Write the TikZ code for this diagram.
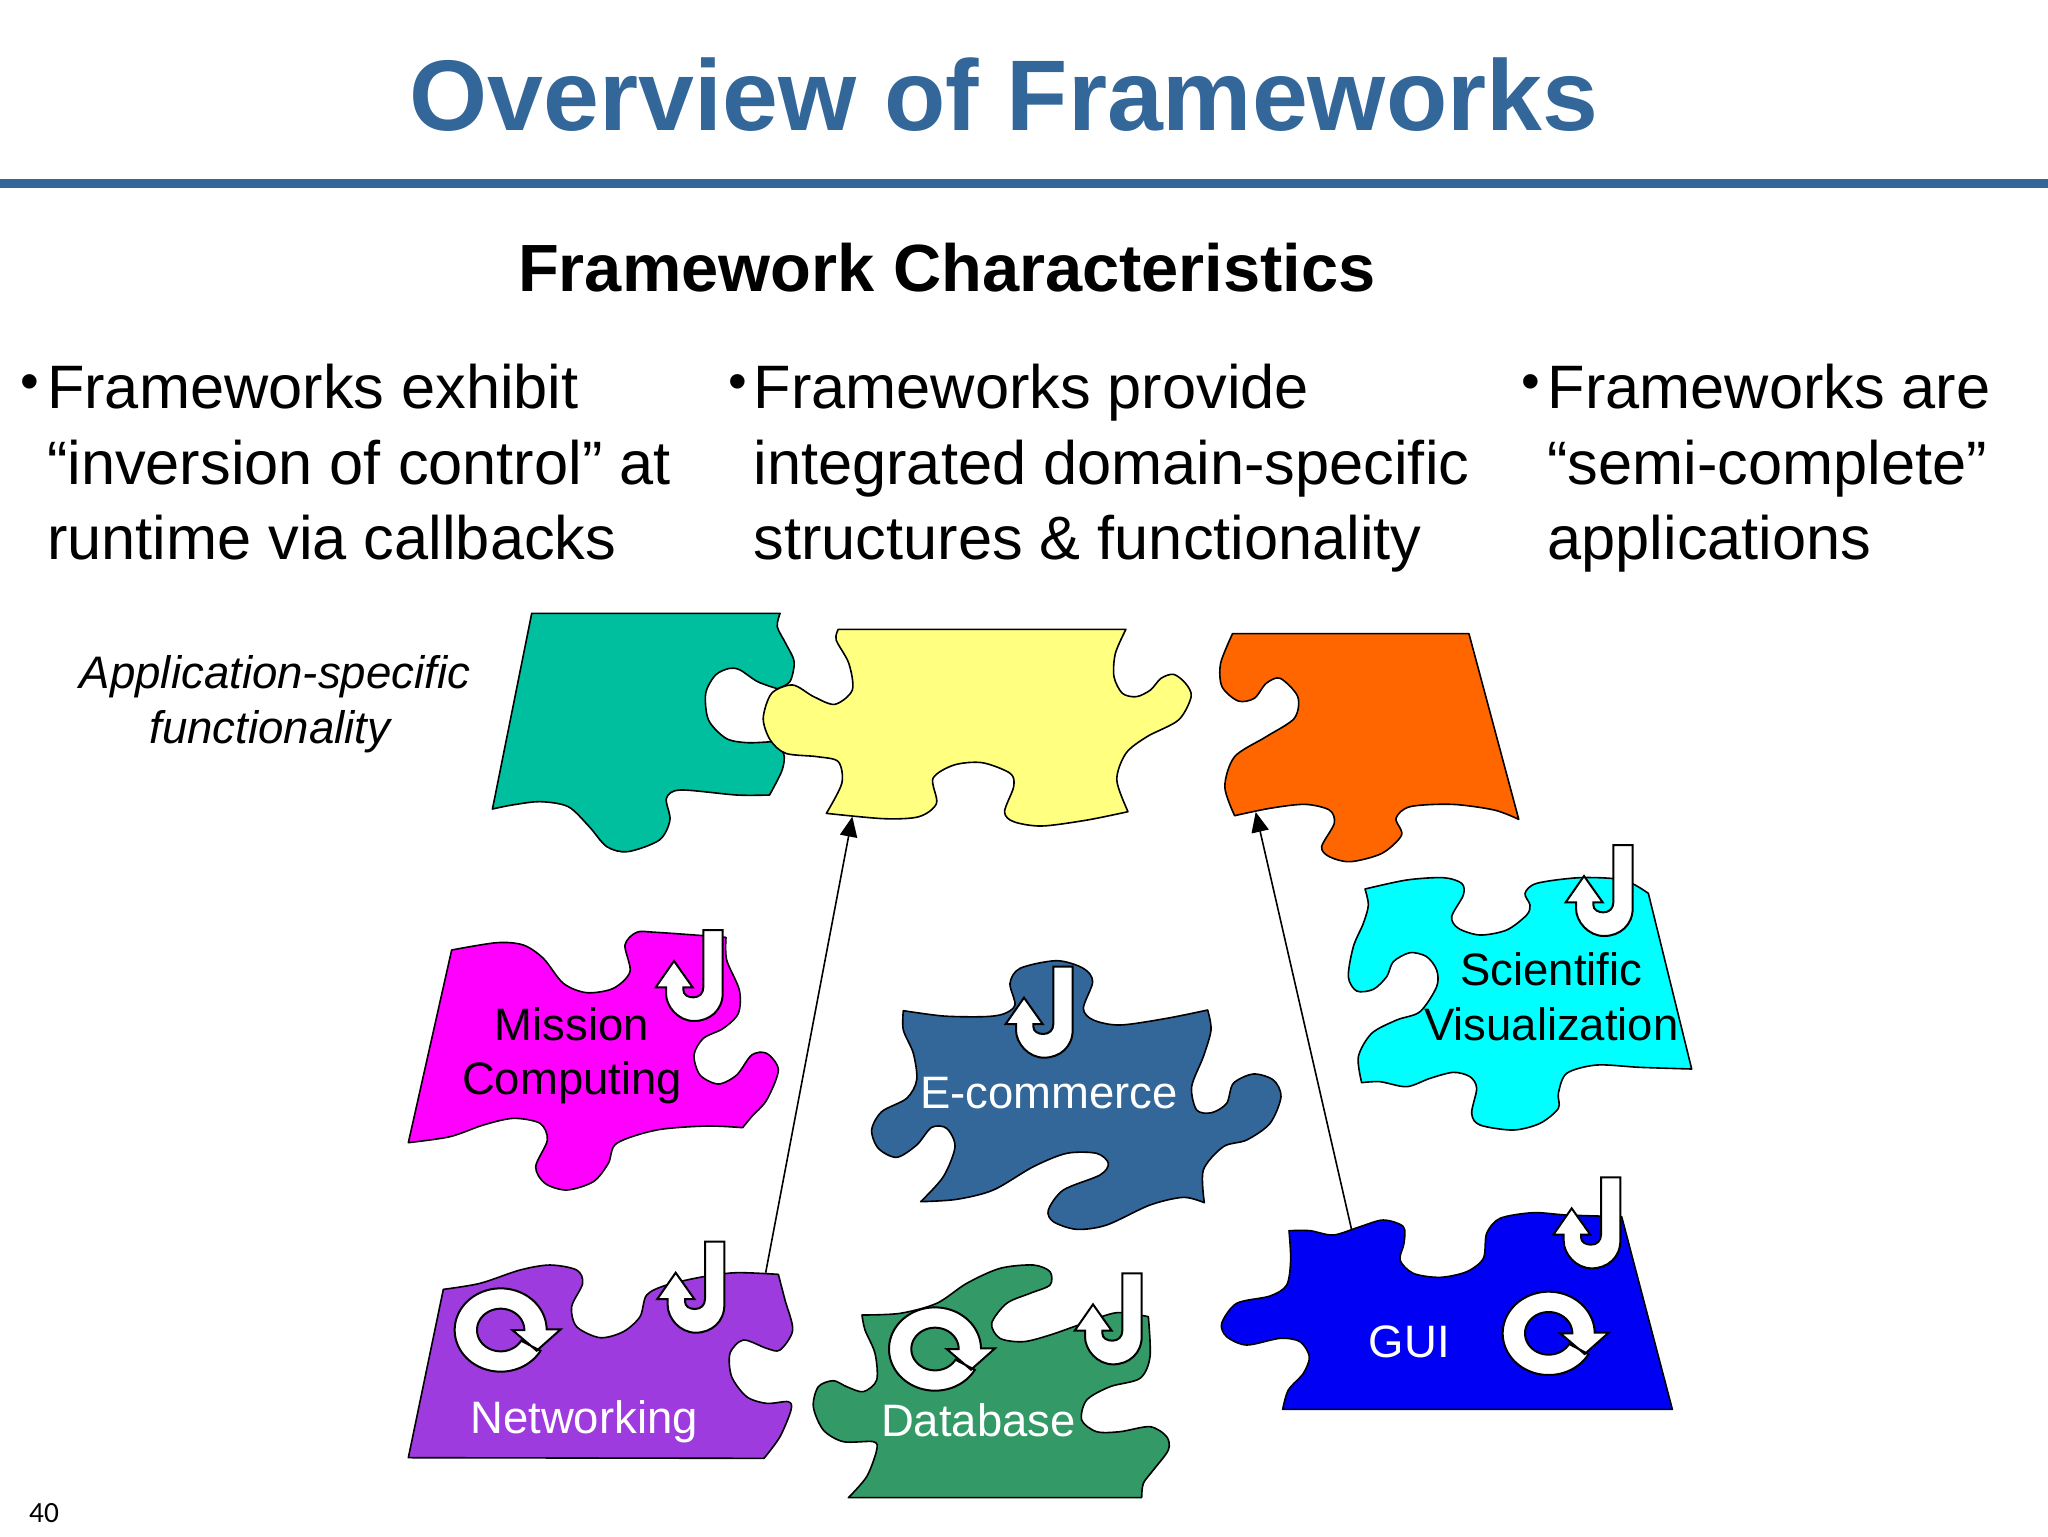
\documentclass[tikz,border=0pt]{standalone}
\usepackage{fontspec}
\setmainfont{Liberation Sans}
\newfontfamily\pagefont{Carlito}
\usetikzlibrary{arrows.meta}
\definecolor{slate}{HTML}{336699}
\definecolor{tealp}{HTML}{00BF9F}
\definecolor{yellowp}{HTML}{FFFF80}
\definecolor{orangep}{HTML}{FF6600}
\definecolor{magentap}{HTML}{FF00FF}
\definecolor{cyanp}{HTML}{00FFFF}
\definecolor{purplep}{HTML}{9E3BDE}
\definecolor{greenp}{HTML}{339966}
\definecolor{bluep}{HTML}{0000F5}
\tikzset{
  px/.style={x=0.375pt,y=-0.375pt},
  z3/.style={x=0.125pt,y=-0.125pt},
  z1/.style={x=0.26306pt,y=-0.125pt},
  piece/.style={draw=black,line width=0.6pt,line join=round},
  whiteshape/.style={draw=black,fill=white,line width=0.75pt,line join=miter},
  bodytext/.style={anchor=north west,inner sep=0pt,align=left,font=\fontsize{23}{28.2}\selectfont},
  bulletmark/.style={anchor=center,inner sep=0pt,font=\fontsize{20}{20}\selectfont},
  puzzletext/.style={inner sep=0pt,align=center,font=\fontsize{17.05}{20.4}\selectfont},
  link/.style={draw=black,line width=0.6pt,-{Triangle[length=7.5pt,width=6.5pt]}},
  jarrow/.pic={
    \path[whiteshape] (0,0) -- (58,0) -- (58,190)
      .. controls (58,240) and (20,273) .. (-28,273)
      .. controls (-75,273) and (-112,230) .. (-112,190)
      -- (-112,172) -- (-143,172) -- (-88,93) -- (-32,172) -- (-60,172) -- (-60,180)
      .. controls (-60,195) and (-45,202) .. (-30,202)
      .. controls (-12,202) and (0,190) .. (0,172) -- cycle;
  },
  qarrow/.pic={
    \path[whiteshape] (180,-2) -- (138,-2)
      -- plot[domain=-1:-330,samples=80] ({138*cos(\x)},{125*sin(\x)})
      -- plot[domain=30:360,samples=60] ({71*cos(\x)},{64*sin(\x)})
      -- (35,0) -- (108,62) -- cycle;
  }
}
\begin{document}
\begin{tikzpicture}[px]
\useasboundingbox (0,0) rectangle (2048,1536);
\fill[white] (0,0) rectangle (2048,1536);
\fill[slate] (0,179) rectangle (2048,188);
\node[inner sep=0pt,text=slate,font=\fontsize{37.65}{45}\selectfont\bfseries] (title) at (1004,95) {Overview of Frameworks};
\node[inner sep=0pt,font=\fontsize{25.05}{30}\selectfont\bfseries] (subtitle) at (947,268) {Framework Characteristics};
\node[bulletmark] (b1) at (30,387) {•};
\node[bulletmark] (b2) at (738,387) {•};
\node[bulletmark] (b3) at (1531,387) {•};
\node[bodytext] (t1) at (46.5,364) {Frameworks exhibit\\“inversion of control” at\\runtime via callbacks};
\node[bodytext] (t2) at (753,364) {Frameworks provide\\integrated domain-specific\\structures \& functionality};
\node[bodytext] (t3) at (1547,364) {Frameworks are\\“semi-complete”\\applications};
\node[puzzletext,font=\fontsize{17.1}{20.4}\selectfont\itshape] (appl) at (275,704) {Application-specific\\functionality\hspace*{3.9pt}};
\node[inner sep=0pt,font=\pagefont\fontsize{11}{13}\selectfont] (pageno) at (44,1513) {40};

% teal
\begin{scope}[shift={(470,590)},z1]
\path[piece,fill=tealp] plot[smooth] coordinates {(442,70)(438,110)(450,160)(462,215)(456,275)(438,296)}
 -- plot[smooth] coordinates {(438,296)(410,275)(385,240)(370,235)(350,255)(336,310)(340,390)(365,445)(395,458)(430,455)}
 -- plot[smooth] coordinates {(430,455)(447,490)(445,540)(427,615)}
 -- plot[smooth] coordinates {(427,615)(380,615)(300,600)(280,625)(285,690)(270,750)(225,785)(195,770)(170,710)(140,650)(100,635)(60,645)(32,657)}
 -- (88,70) -- cycle;
% yellow
\path[piece,fill=yellowp] plot[smooth] coordinates {(935,118)(920,190)(918,260)(930,310)(950,320)(970,300)(985,265)(1003,253)(1020,280)(1028,320)(1010,390)(965,440)(935,490)(922,570)(938,665)}
 -- plot[smooth] coordinates {(938,665)(880,690)(815,708)(775,695)(762,665)(775,590)(770,550)(730,518)(690,525)(660,565)(665,640)(640,680)(590,686)(508,670)}
 -- plot[smooth] coordinates {(508,670)(530,580)(525,515)(495,500)(450,490)(428,450)(418,385)(430,310)(460,285)(490,320)(520,343)(545,300)(540,220)(522,150)(525,118)}
 -- cycle;
% orange
\path[piece,fill=orangep] (1087,131) -- (1424,131) -- (1495,688)
 -- plot[smooth] coordinates {(1495,688)(1460,660)(1400,643)(1340,650)(1320,685)(1328,735)(1300,790)(1255,815)(1225,800)(1214,770)(1232,700)(1225,660)(1190,643)(1140,655)(1090,677)}
 -- plot[smooth] coordinates {(1090,677)(1076,590)(1090,500)(1135,440)(1175,385)(1180,320)(1155,265)(1135,280)(1118,325)(1095,333)(1072,290)(1070,220)(1087,131)}
 -- cycle;
\coordinate (yellowEdge) at (545,680);
\coordinate (orangeEdge) at (1120,666);
\end{scope}

% magenta
\begin{scope}[shift={(390,900)},z3]
\path[piece,fill=magentap] plot[smooth] coordinates {(185,150)(320,128)(400,135)(460,175)(520,250)(590,278)(670,265)(720,215)(705,135)(740,97)(800,97)(1008,112)}
 -- plot[smooth] coordinates {(1008,112)(1010,180)(1048,270)(1045,340)(1000,385)(940,415)(912,465)(930,525)(985,552)(1040,525)(1085,465)(1130,460)(1165,510)(1130,600)(1085,650)(1058,683)}
 -- plot[smooth] coordinates {(1058,683)(950,678)(800,690)(680,730)(655,790)(610,845)(530,870)(465,850)(437,800)(472,720)(450,670)(370,655)(280,675)(180,710)(55,728)}
 -- cycle;
\pic at (940,90) {jarrow};
\node[puzzletext] (mission) at (546,468) {Mission\\Computing};
\end{scope}

% steel blue
\begin{scope}[shift={(850,940)},z3]
\path[piece,fill=slate] plot[smooth] coordinates {(160,212)(280,228)(400,230)(460,222)(495,195)(480,130)(510,85)(620,62)(700,85)(728,125)(700,205)(730,240)(810,255)(950,235)(1073,210)}
 -- plot[smooth] coordinates {(1073,210)(1083,270)(1060,350)(1025,440)(1040,510)(1085,518)(1130,490)(1150,430)(1210,402)(1270,420)(1293,470)(1260,550)(1190,600)(1120,620)(1060,690)(1063,788)}
 -- plot[smooth] coordinates {(1063,788)(1000,772)(900,795)(770,855)(680,868)(610,845)(595,810)(640,750)(750,705)(775,670)(740,640)(650,640)(550,680)(430,750)(320,778)(212,785)}
 -- plot[smooth] coordinates {(212,785)(280,710)(315,620)(290,565)(245,562)(200,615)(140,652)(85,625)(65,570)(95,515)(170,475)(200,420)(190,340)(160,270)(160,212)}
 -- cycle;
\pic at (610,80) {jarrow};
\node[puzzletext,text=white] (ecom) at (597,458) {E-commerce};
\end{scope}

% cyan
\begin{scope}[shift={(1330,830)},z3]
\path[piece,fill=cyanp] plot[smooth] coordinates {(105,177)(230,150)(340,143)(395,160)(400,195)(365,260)(385,295)(450,315)(530,300)(590,255)(600,225)(585,190)(620,160)(750,143)(880,150)(955,190)}
 -- (1085,717)
 -- plot[smooth] coordinates {(1085,717)(930,712)(800,705)(710,730)(685,790)(685,835)(630,880)(550,900)(450,885)(425,850)(440,775)(420,740)(370,727)(300,745)(230,770)(150,755)(95,758)}
 -- plot[smooth] coordinates {(95,758)(85,680)(125,610)(200,570)(270,545)(320,470)(320,420)(290,380)(240,368)(190,395)(170,440)(130,478)(80,483)(55,440)(70,350)(100,280)(115,225)(105,177)}
 -- cycle;
\pic at (850,45) {jarrow};
\node[puzzletext] (scivis) at (664,500) {Scientific\\Visualization};
\end{scope}

% purple
\begin{scope}[shift={(390,1220)},z3]
\path[piece,fill=purplep] plot[smooth] coordinates {(160,208)(270,190)(390,150)(480,135)(560,150)(578,190)(545,260)(560,320)(630,353)(700,335)(750,290)(770,225)(830,195)(940,170)(1040,158)(1165,163)}
 -- plot[smooth] coordinates {(1165,163)(1185,240)(1208,330)(1170,390)(1130,385)(1060,360)(1020,400)(1025,470)(1070,530)(1130,550)(1195,545)(1203,570)(1170,650)(1122,715)}
 -- (55,713) -- cycle;
\pic at (945,65) {jarrow};
\pic at (332,330) {qarrow};
\node[puzzletext,text=white] (netw) at (582,606) {Networking};
\coordinate (purpleEdge) at (1127,158);
\end{scope}

% green
\begin{scope}[shift={(800,1250)},z3]
\path[piece,fill=greenp] plot[smooth] coordinates {(186,195)(300,190)(410,160)(500,100)(600,55)(700,45)(750,65)(750,105)(690,130)(620,160)(575,220)(600,265)(670,275)(750,255)(850,220)(950,188)(1045,200)}
 -- plot[smooth] coordinates {(1045,200)(1050,320)(1020,385)(930,410)(860,450)(845,510)(890,545)(960,545)(1050,530)(1100,560)(1105,600)(1060,660)(1030,700)(1025,743)}
 -- (145,743)
 -- plot[smooth] coordinates {(145,743)(200,680)(230,600)(220,575)(130,575)(70,540)(40,470)(55,410)(100,392)(140,410)(190,425)(230,390)(225,310)(195,240)(186,195)}
 -- cycle;
\pic at (967,70) {jarrow};
\pic at (405,297) {qarrow};
\node[puzzletext,text=white] (dbase) at (535,512) {Database};
\end{scope}

% blue
\begin{scope}[shift={(1200,1160)},z3]
\path[piece,fill=bluep] plot[smooth] coordinates {(267,212)(330,212)(400,225)(480,200)(550,180)(610,200)(612,250)(600,300)(640,340)(720,352)(800,335)(850,295)(860,220)(900,175)(1000,158)(1100,165)(1265,170)}
 -- (1417,748) -- (248,748)
 -- plot[smooth] coordinates {(248,748)(265,690)(310,640)(328,590)(300,545)(240,535)(140,555)(80,530)(65,490)(110,430)(210,408)(260,375)(272,300)(267,212)}
 -- cycle;
\pic at (1203,52) {jarrow};
\pic at (1046,520) {qarrow};
\node[puzzletext,text=white] (gui) at (628,544) {GUI};
\coordinate (blueEdge) at (455,210);
\end{scope}

\draw[link] (purpleEdge) -- (yellowEdge);
\draw[link] (blueEdge) -- (orangeEdge);
\end{tikzpicture}
\end{document}
